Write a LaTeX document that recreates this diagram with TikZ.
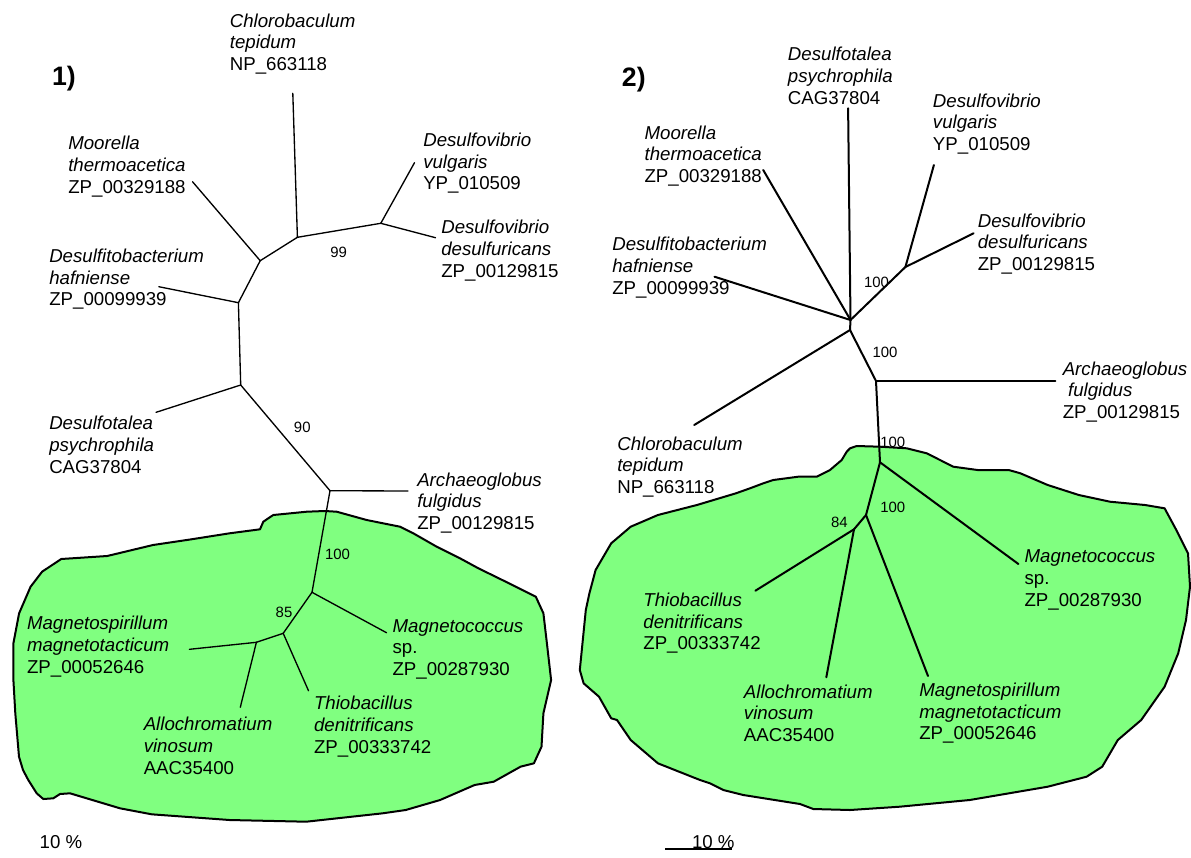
\documentclass[tikz,border=0pt]{standalone}
\usepackage{fontspec}
\setmainfont{Liberation Sans}
\definecolor{blobgreen}{RGB}{128,255,128}
\begin{document}
\begin{tikzpicture}[x=0.75pt,y=-0.75pt,line join=round,line cap=round,
 lbl/.style={anchor=west,align=left,inner sep=0pt,font=\fontsize{14}{16.3}\selectfont},
 boot/.style={inner sep=0pt,font=\fontsize{11.2}{13}\selectfont},
 panel/.style={inner sep=0pt,font=\fontsize{20}{24}\selectfont\bfseries},
 scaletxt/.style={inner sep=0pt,font=\fontsize{14}{16}\selectfont},
 thinbr/.style={line width=1pt},
 thickbr/.style={line width=1.5pt},
 blob/.style={fill=blobgreen,draw=black,line width=1.5pt}]
\useasboundingbox (0,0) rectangle (1191,857);

% ---------- green regions ----------
\draw[blob] (325,511) -- (336.7,511.7) -- (366.7,520) -- (400,526.7) -- (413.3,533.3) -- (436.7,546.7) -- (460,558.3) -- (478.4,568.3) -- (509,583.3) -- (535.8,596.7) -- (543.4,613.3) -- (547.3,646.7) -- (551.1,680) -- (543.4,713.3) -- (541.5,746.7) -- (533.9,763.3) -- (520.5,766.7) -- (493.7,781.7) -- (474.6,785) -- (440.1,800) -- (405.7,810) -- (382.7,813.3) -- (306.2,821.7) -- (229.6,820) -- (151.7,814.3) -- (120,808.3) -- (70,793.3) -- (60,794) -- (53.3,798.3) -- (43.3,799) -- (36.7,793.3) -- (28.3,780) -- (23,770) -- (19,756.7) -- (15.3,713.3) -- (13.4,680) -- (13.4,643.3) -- (19.1,613.3) -- (30.6,586.7) -- (42.1,571.7) -- (61.2,559) -- (107.2,556) -- (153,545) -- (191.4,539.3) -- (229.6,533.3) -- (260,529.3) -- (263.3,521.7) -- (268.3,518.3) -- (273.3,515) -- (306.7,511.7) -- cycle;

\draw[blob] (850,448.3) -- (856.7,446) -- (880,446.7) -- (906.7,448.3) -- (926.7,453.3) -- (953.3,466.7) -- (977.5,470) -- (1008.7,470) -- (1020.4,473.3) -- (1047.7,485) -- (1078.8,495) -- (1110,501.7) -- (1145,505) -- (1164.6,508.3) -- (1176.3,530) -- (1188,553.3) -- (1190,586.7) -- (1186,620) -- (1178.2,653.3) -- (1164.6,686.7) -- (1141.2,720) -- (1117.8,740) -- (1102.2,766.7) -- (1086.6,776.7) -- (1047.7,786.7) -- (969.7,800) -- (899.6,806.7) -- (850,810) -- (813.3,809) -- (800,804) -- (743.3,795) -- (723.3,790) -- (710,783.3) -- (700,780) -- (657.9,763.3) -- (630.7,740) -- (617,720) -- (611.2,718.3) -- (599,696.7) -- (583.6,683.3) -- (579.8,670) -- (585.8,610) -- (589.4,593.3) -- (595.6,570) -- (611.2,543.3) -- (630.7,526.7) -- (657.9,515) -- (696.9,505) -- (735.9,493.3) -- (750,488.3) -- (763.3,483.3) -- (773.3,480) -- (798.2,476.7) -- (816.7,476.7) -- (830,470) -- (841.7,460) -- (846.7,451.7) -- cycle;

% ---------- tree 1 ----------
\coordinate (aA) at (297.4,237.3);
\coordinate (aB) at (380.8,223.3);
\coordinate (aC) at (260.2,260.7);
\coordinate (aD) at (238.4,302.7);
\coordinate (aE) at (240.7,385);
\coordinate (aF) at (330,490.7);
\coordinate (aG) at (312,592.3);
\coordinate (aH) at (283.2,633.3);
\coordinate (aI) at (256.4,642.3);
\coordinate (achl) at (292.8,93.3);
\coordinate (advu) at (414.5,162.7);
\coordinate (adde) at (435.5,237.7);
\coordinate (amoo) at (192.5,181.7);
\coordinate (adha) at (158.8,286.7);
\coordinate (adps) at (156.1,412.3);
\coordinate (aafu) at (408,491);
\coordinate (amco) at (386.5,632.7);
\coordinate (amma) at (189.4,649.3);
\coordinate (aavi) at (240.3,707.3);
\coordinate (atde) at (308.5,690.7);

\draw[thinbr] (aA) -- (achl);
\draw[thinbr] (aA) -- (aB);
\draw[thinbr] (aB) -- (advu);
\draw[thinbr] (aB) -- (adde);
\draw[thinbr] (aA) -- (aC);
\draw[thinbr] (aC) -- (amoo);
\draw[thinbr] (aC) -- (aD);
\draw[thinbr] (aD) -- (adha);
\draw[thinbr] (aD) -- (aE);
\draw[thinbr] (aE) -- (adps);
\draw[thinbr] (aE) -- (aF);
\draw[thinbr] (aF) -- (aafu);
\draw[thinbr] (aF) -- (aG);
\draw[thinbr] (aG) -- (amco);
\draw[thinbr] (aG) -- (aH);
\draw[thinbr] (aH) -- (aI);
\draw[thinbr] (aI) -- (amma);
\draw[thinbr] (aI) -- (aavi);
\draw[thinbr] (aH) -- (atde);

\node[panel] (p1) at (64,79) {1)};
\node[lbl] (lachl) at (229.6,44) {\textit{Chlorobaculum}\\\textit{tepidum}\\NP\_663118};
\node[lbl] (lamoo) at (68,166.7) {\textit{Moorella}\\\textit{thermoacetica}\\ZP\_00329188};
\node[lbl] (ladvu) at (423,163.3) {\textit{Desulfovibrio}\\\textit{vulgaris}\\YP\_010509};
\node[lbl] (ladde) at (441,250.7) {\textit{Desulfovibrio}\\\textit{desulfuricans}\\ZP\_00129815};
\node[lbl] (ladha) at (49,279.3) {\textit{Desulfitobacterium}\\\textit{hafniense}\\ZP\_00099939};
\node[lbl] (ladps) at (49,445) {\textit{Desulfotalea}\\\textit{psychrophila}\\CAG37804};
\node[lbl] (laafu) at (417,503) {\textit{Archaeoglobus}\\\textit{fulgidus}\\ZP\_00129815};
\node[lbl] (lamco) at (392.3,649.3) {\textit{Magnetococcus}\\sp.\\ZP\_00287930};
\node[lbl] (lamma) at (26.8,646.7) {\textit{Magnetospirillum}\\\textit{magnetotacticum}\\ZP\_00052646};
\node[lbl] (laavi) at (143.5,746) {\textit{Allochromatium}\\\textit{vinosum}\\AAC35400};
\node[lbl] (latde) at (313.8,726.7) {\textit{Thiobacillus}\\\textit{denitrificans}\\ZP\_00333742};

\node[boot] (b99) at (338.7,252.7) {99};
\node[boot] (b90) at (302.3,427.7) {90};
\node[boot] (b100a) at (337.5,554) {100};
\node[boot] (b85) at (284,612.3) {85};

\node[scaletxt] (s1) at (61,841.7) {10 \%};

% ---------- tree 2 ----------
\coordinate (bH1) at (850.5,320);
\coordinate (bH2) at (850,330);
\coordinate (bJ) at (905.4,267);
\coordinate (bK) at (876,381);
\coordinate (bL) at (880,462.3);
\coordinate (bM) at (866,515);
\coordinate (bN) at (854,529.3);
\coordinate (bdps) at (848.1,108.3);
\coordinate (bmoo) at (763.2,170);
\coordinate (bdha) at (714.5,276.7);
\coordinate (bdvu) at (933.9,165);
\coordinate (bdde) at (973.6,233.3);
\coordinate (bchl) at (694.2,425);
\coordinate (bafu) at (1055.4,381);
\coordinate (bmco) at (1018.4,564);
\coordinate (btde) at (755.4,590.7);
\coordinate (bavi) at (826.3,677.3);
\coordinate (bmma) at (928,676);

\draw[thickbr] (bH1) -- (bdps);
\draw[thickbr] (bH1) -- (bmoo);
\draw[thickbr] (bH1) -- (bdha);
\draw[thickbr] (bH1) -- (bJ);
\draw[thickbr] (bJ) -- (bdvu);
\draw[thickbr] (bJ) -- (bdde);
\draw[thickbr] (bH1) -- (bH2);
\draw[thickbr] (bH2) -- (bchl);
\draw[thickbr] (bH2) -- (bK);
\draw[thickbr] (bK) -- (bafu);
\draw[thickbr] (bK) -- (bL);
\draw[thickbr] (bL) -- (bmco);
\draw[thickbr] (bL) -- (bM);
\draw[thickbr] (bM) -- (bN);
\draw[thickbr] (bN) -- (btde);
\draw[thickbr] (bN) -- (bavi);
\draw[thickbr] (bM) -- (bmma);

\node[panel] (p2) at (633.8,79.3) {2)};
\node[lbl] (lbdps) at (787.7,76) {\textit{Desulfotalea}\\\textit{psychrophila}\\CAG37804};
\node[lbl] (lbdvu) at (932.7,124) {\textit{Desulfovibrio}\\\textit{vulgaris}\\YP\_010509};
\node[lbl] (lbmoo) at (644.3,156) {\textit{Moorella}\\\textit{thermoacetica}\\ZP\_00329188};
\node[lbl] (lbdha) at (612,267.7) {\textit{Desulfitobacterium}\\\textit{hafniense}\\ZP\_00099939};
\node[lbl] (lbdde) at (977.5,244) {\textit{Desulfovibrio}\\\textit{desulfuricans}\\ZP\_00129815};
\node[lbl] (lbafu) at (1062.5,392) {\textit{Archaeoglobus}\\\hspace{4pt}\textit{fulgidus}\\ZP\_00129815};
\node[lbl] (lbchl) at (617,467) {\textit{Chlorobaculum}\\\textit{tepidum}\\NP\_663118};
\node[lbl] (lbmco) at (1024.3,580) {\textit{Magnetococcus}\\sp.\\ZP\_00287930};
\node[lbl] (lbtde) at (643.1,623.3) {\textit{Thiobacillus}\\\textit{denitrificans}\\ZP\_00333742};
\node[lbl] (lbavi) at (743.7,713.3) {\textit{Allochromatium}\\\textit{vinosum}\\AAC35400};
\node[lbl] (lbmma) at (919,713.3) {\textit{Magnetospirillum}\\\textit{magnetotacticum}\\ZP\_00052646};

\node[boot] (c100a) at (876.5,282.8) {100};
\node[boot] (c100b) at (885,352.7) {100};
\node[boot] (c100c) at (892.7,442.7) {100};
\node[boot] (c100d) at (892.7,507.3) {100};
\node[boot] (c84) at (839.3,522.7) {84};

\node[scaletxt] (s2) at (713.3,841.7) {10 \%};
\draw[line width=1.5pt,line cap=butt] (665,849) -- (731.7,849);
\end{tikzpicture}
\end{document}
